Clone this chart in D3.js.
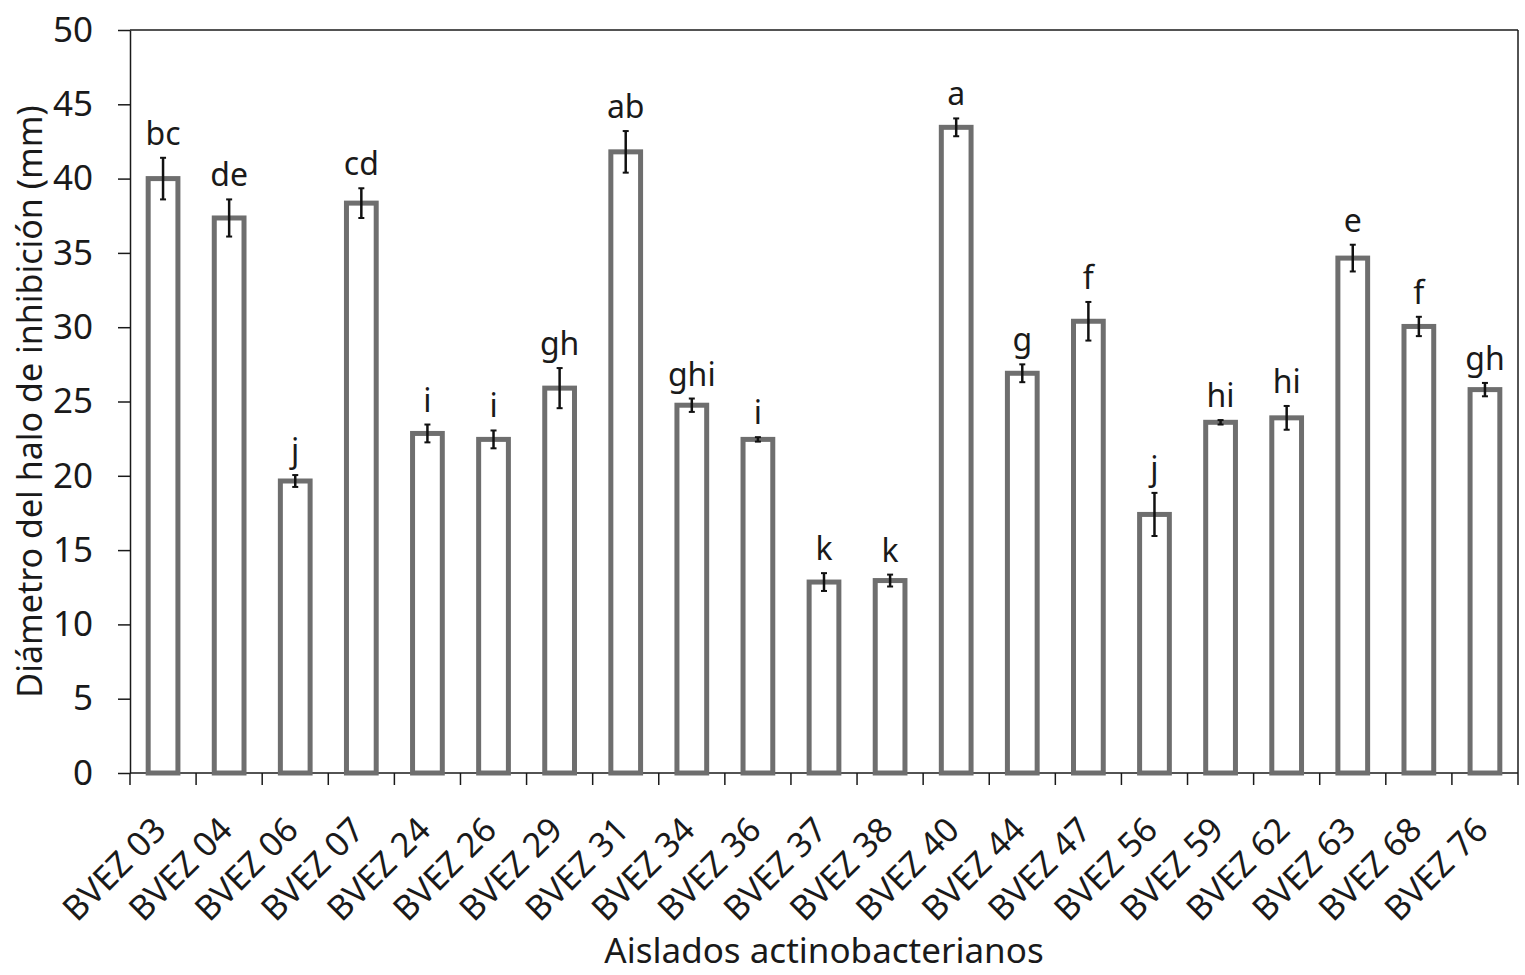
<!DOCTYPE html>
<html>
<head>
<meta charset="utf-8">
<script src="https://cdn.jsdelivr.net/npm/d3@7"></script>
<style>
  body { margin: 0; background: #fff; }
  text { font-family: "Noto Sans", Lato, sans-serif; fill: #1a1a1a; }
</style>
</head>
<body>
<svg id="chart" width="1525" height="975"></svg>
<script>
// aislados (categories)
let isolates = ["BVEZ 03", "BVEZ 04", "BVEZ 06", "BVEZ 07", "BVEZ 24", "BVEZ 26", "BVEZ 29",
  "BVEZ 31", "BVEZ 34", "BVEZ 36", "BVEZ 37", "BVEZ 38", "BVEZ 40", "BVEZ 44", "BVEZ 47",
  "BVEZ 56", "BVEZ 59", "BVEZ 62", "BVEZ 63", "BVEZ 68", "BVEZ 76"];

// mean halo diameter (mm)
let means = [40.0, 37.35, 19.65, 38.35, 22.85, 22.45, 25.9, 41.8, 24.75, 22.45, 12.85,
  12.95, 43.45, 26.9, 30.4, 17.4, 23.6, 23.9, 34.65, 30.05, 25.8];

// error (+/-)
let errs = [1.4, 1.25, 0.4, 1.0, 0.6, 0.6, 1.35, 1.4, 0.45, 0.15, 0.6,
  0.4, 0.6, 0.6, 1.3, 1.45, 0.15, 0.8, 0.9, 0.65, 0.45];

// significance letters
let letters = ["bc", "de", "j", "cd", "i", "i", "gh", "ab", "ghi", "i", "k",
  "k", "a", "g", "f", "j", "hi", "hi", "e", "f", "gh"];

let yTicks = [0, 5, 10, 15, 20, 25, 30, 35, 40, 45, 50];

let margin = { left: 130, right: 7, top: 30, bottom: 202 },
    width = 1525 - margin.left - margin.right,
    height = 975 - margin.top - margin.bottom;

let svg = d3.select("#chart");
let g = svg.append("g").attr("transform", `translate(${margin.left},${margin.top})`);

let x = d3.scaleBand().domain(isolates).range([0, width]).paddingInner(0.55).paddingOuter(0.275);
let y = d3.scaleLinear().domain([0, 50]).range([height, 0]);

let data = isolates.map((d, i) => ({ name: d, v: means[i], e: errs[i], l: letters[i] }));

// frame top and right
g.append("line").attr("x1", 0).attr("x2", width).attr("y1", 0).attr("y2", 0)
  .attr("stroke", "#1a1a1a").attr("stroke-width", 1.5);
g.append("line").attr("x1", width).attr("x2", width).attr("y1", 0).attr("y2", height)
  .attr("stroke", "#1a1a1a").attr("stroke-width", 1.5);

// y axis
let yAxis = g.append("g")
  .call(d3.axisLeft(y).tickValues(yTicks).tickSize(12).tickPadding(25).tickSizeOuter(0));
yAxis.select(".domain").attr("stroke", "#1a1a1a").attr("stroke-width", 1.5);
yAxis.selectAll(".tick line").attr("stroke", "#1a1a1a").attr("stroke-width", 1.5);
yAxis.selectAll("text").style("font-size", "35px").attr("fill", "#1a1a1a")
  .style("font-family", "'Noto Sans', sans-serif");

// x axis: ticks at band boundaries
let xAxis = g.append("g").attr("transform", `translate(0,${height})`);
xAxis.append("line").attr("x1", 0).attr("x2", width)
  .attr("stroke", "#1a1a1a").attr("stroke-width", 1.5);
let step = x.step();
let bounds = d3.range(isolates.length + 1).map(i => i * step);
xAxis.selectAll("line.tk").data(bounds).enter().append("line")
  .attr("class", "tk")
  .attr("x1", d => d).attr("x2", d => d).attr("y1", 0).attr("y2", 12)
  .attr("stroke", "#1a1a1a").attr("stroke-width", 1.5);
xAxis.selectAll("text.lab").data(isolates).enter().append("text")
  .attr("class", "lab")
  .attr("text-anchor", "end")
  .attr("transform", d => `translate(${x(d) + x.bandwidth() / 2 + 5},${59}) rotate(-45)`)
  .style("font-size", "34px")
  .text(d => d);

// bars
let bar = g.selectAll("g.bar").data(data).enter().append("g").attr("class", "bar");

bar.append("rect")
  .attr("x", d => x(d.name))
  .attr("y", d => y(d.v))
  .attr("width", x.bandwidth())
  .attr("height", d => height - y(d.v))
  .attr("fill", "#fff")
  .attr("stroke", "#6e6e6e")
  .attr("stroke-width", 5);

// error bars
let cx = d => x(d.name) + x.bandwidth() / 2;
bar.append("line")
  .attr("x1", cx).attr("x2", cx)
  .attr("y1", d => y(d.v + d.e)).attr("y2", d => y(d.v - d.e))
  .attr("stroke", "#111").attr("stroke-width", 2.5);
bar.append("line")
  .attr("x1", d => cx(d) - 3).attr("x2", d => cx(d) + 3)
  .attr("y1", d => y(d.v + d.e)).attr("y2", d => y(d.v + d.e))
  .attr("stroke", "#111").attr("stroke-width", 2);
bar.append("line")
  .attr("x1", d => cx(d) - 3).attr("x2", d => cx(d) + 3)
  .attr("y1", d => y(d.v - d.e)).attr("y2", d => y(d.v - d.e))
  .attr("stroke", "#111").attr("stroke-width", 2);

// letters
bar.append("text")
  .attr("x", cx)
  .attr("y", d => y(d.v + d.e) - 13)
  .attr("text-anchor", "middle")
  .style("font-size", "32px")
  .text(d => d.l);

// axis titles
svg.append("text")
  .attr("transform", `translate(42,${margin.top + height / 2}) rotate(-90)`)
  .attr("text-anchor", "middle")
  .style("font-size", "34px")
  .text("Diámetro del halo de inhibición (mm)");

svg.append("text")
  .attr("x", margin.left + width / 2)
  .attr("y", 963)
  .attr("text-anchor", "middle")
  .style("font-size", "35px")
  .text("Aislados actinobacterianos");
</script>
</body>
</html>
